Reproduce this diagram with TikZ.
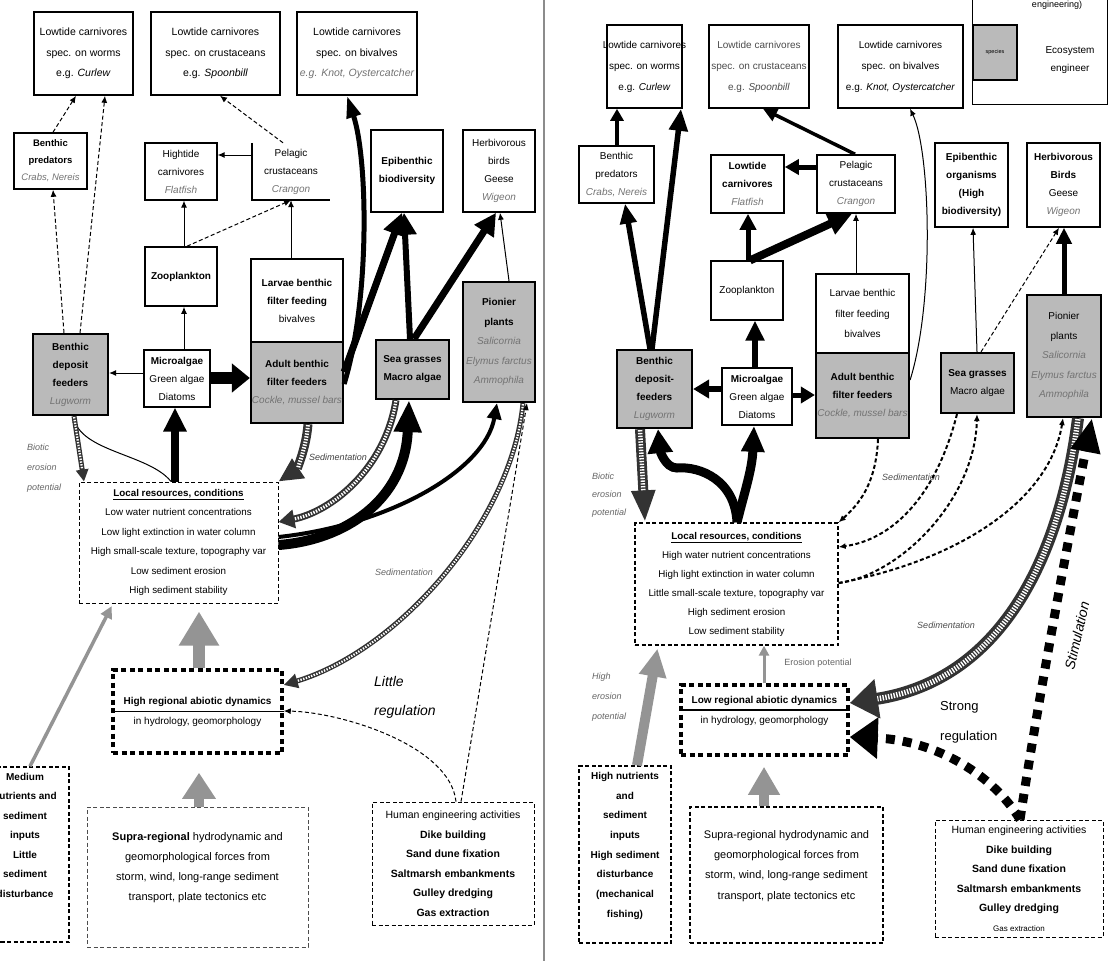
\documentclass[tikz,border=0pt]{standalone}
\usepackage{fontspec}
\setmainfont{Liberation Sans}
\usetikzlibrary{arrows.meta}
\newcommand\spname[1]{{\color{black!55}\itshape #1}}
\newcommand\ov[1]{\makebox[0pt][c]{#1}}
\newcommand\hatchdraw[4]{%
 \draw[line width=#1pt, black!80, -{Triangle[length=#2pt,width=#3pt]}] #4;
 \draw[line width=#1pt*0.45, white, dash pattern=on 1.4pt off 1.4pt, shorten >=#2pt, shorten <=1pt] #4;}
\begin{document}
\begin{tikzpicture}[x=1pt,y=-1pt,
 box/.style={draw,line width=1.6pt,fill=white,align=center,inner sep=1pt},
 eng/.style={box,fill=black!27,line width=2.2pt},
 dbox/.style={draw,line width=1pt,dash pattern=on 4pt off 2.5pt,align=center,inner sep=1pt},
 dotbox/.style={draw,line width=3.5pt,dash pattern=on 5pt off 3.5pt,align=center,inner sep=1pt},
 lbl/.style={align=center,inner sep=0pt},
 conn/.style={line width=1pt,-{Latex[length=7pt,width=6pt]}},
 connd/.style={conn,dash pattern=on 4pt off 2.5pt},
 fat/.style args={#1/#2/#3}{line width=#1pt,-{Triangle[length=#2pt,width=#3pt]}},
 gfat/.style args={#1/#2/#3}{fat=#1/#2/#3, black!42},
 bdash/.style args={#1/#2/#3}{fat=#1/#2/#3, dash pattern=on 9pt off 8pt},
 fT/.style={font=\fontsize{10.5}{20.5}\selectfont},
 fM/.style={font=\fontsize{10}{18}\selectfont},
 fP/.style={font=\fontsize{10}{19.5}\selectfont},
 fL/.style={font=\fontsize{11}{20}\selectfont},
]
\useasboundingbox (0,0) rectangle (1110,961);
\clip (0,0) rectangle (1110,961);
\fill[white] (0,0) rectangle (1110,961);

% divider
\draw[black!45, line width=2pt] (544,0) -- (544,961);

%================ LEFT PANEL =================
\node[box,fT,minimum width=99,minimum height=83] (lw) at (83.5,53.5) {Lowtide carnivores\\spec. on worms\\e.g. \textit{Curlew}};
\node[box,fT,minimum width=129,minimum height=83] (lc) at (215.5,53.5) {Lowtide carnivores\\spec. on crustaceans\\e.g. \textit{Spoonbill}};
\node[box,fT,minimum width=120,minimum height=83] (lb) at (357,53.5) {Lowtide carnivores\\spec. on bivalves\\\spname{e.g. Knot, Oystercatcher}};
\node[box,font=\fontsize{9.5}{17}\selectfont,minimum width=73,minimum height=56] (bp) at (50.5,161) {\textbf{Benthic}\\\textbf{predators}\\\spname{Crabs, Nereis}};
\node[box,fM,line width=1.2pt,minimum width=72,minimum height=57] (hc) at (181,171.5) {Hightide\\carnivores\\\spname{Flatfish}};
\node[lbl,fM,minimum width=78,minimum height=57] (pc) at (291,171.5) {Pelagic\\crustaceans\\\spname{Crangon}};
\draw[line width=1.6pt] (pc.north west) -- (pc.south west) -- (pc.south east);
\node[box,fM,minimum width=72,minimum height=82] (ep) at (407,171) {\textbf{Epibenthic}\\\textbf{biodiversity}};
\node[box,fM,minimum width=72,minimum height=82] (hb) at (499,171) {Herbivorous\\birds\\Geese\\\spname{Wigeon}};
\node[box,fM,minimum width=72,minimum height=59] (zp) at (181,276.5) {\textbf{Zooplankton}};
\node[box,fM,minimum width=92,minimum height=83] (lv) at (297,300.5) {\textbf{Larvae benthic}\\\textbf{filter feeding}\\bivalves};
\node[eng,fM,minimum width=92,minimum height=81] (ad) at (297,382.5) {\textbf{Adult benthic}\\\textbf{filter feeders}\\\spname{Cockle, mussel bars}};
\node[eng,fM,minimum width=75,minimum height=81] (df) at (70.5,374.5) {\textbf{Benthic}\\\textbf{deposit}\\\textbf{feeders}\\\spname{Lugworm}};
\node[box,fM,line width=1.2pt,minimum width=66,minimum height=57] (ma) at (177,378.5) {\textbf{Microalgae}\\Green algae\\Diatoms};
\node[eng,fM,minimum width=73,minimum height=59] (sg) at (412.5,369.5) {\textbf{Sea grasses}\\\textbf{Macro algae}};
\node[eng,fP,minimum width=72,minimum height=120] (pp) at (499,342) {\textbf{Pionier}\\\textbf{plants}\\\spname{Salicornia}\\\spname{Elymus farctus}\\\spname{Ammophila}};
\node[dbox,font=\fontsize{9.8}{19.5}\selectfont,minimum width=199,minimum height=121] (lr) at (178.5,542.5) {\underline{\textbf{Local resources, conditions}}\\Low water nutrient concentrations\\Low light extinction in water column\\\ov{High small-scale texture, topography var}\\Low sediment erosion\\High sediment stability};
\node[dotbox,font=\fontsize{10}{20}\selectfont,minimum width=169,minimum height=83] (hr) at (197.5,711.5) {\textbf{High regional abiotic dynamics}\\in hydrology, geomorphology};
\draw[line width=1.5pt] (hr.west) -- (hr.east);
\node[dbox,line width=1.5pt,font=\fontsize{10}{19.5}\selectfont\bfseries,minimum width=88,minimum height=175] (mn) at (25,854.5) {Medium\\nutrients and\\sediment\\inputs\\Little\\sediment\\disturbance\\\mbox{}\\\mbox{}};
\node[dbox,line width=0.8pt,draw=black!70,fL,minimum width=221,minimum height=140] (sr) at (197.5,877) {\textbf{Supra-regional} hydrodynamic and\\geomorphological forces from\\storm, wind, long-range sediment\\transport, plate tectonics etc\\\mbox{}};
\node[dbox,line width=0.8pt,font=\fontsize{10.5}{19.5}\selectfont,minimum width=162,minimum height=123] (he) at (453,863.5) {Human engineering activities\\\textbf{Dike building}\\\textbf{Sand dune fixation}\\\textbf{Saltmarsh embankments}\\\textbf{Gulley dredging}\\\textbf{Gas extraction}};

% left labels
\node[lbl,anchor=west,align=left,font=\fontsize{9}{20}\selectfont\itshape,text=black!60] (bep) at (27,468) {Biotic\\erosion\\potential};
\node[lbl,font=\fontsize{9}{10}\selectfont\itshape,text=black!75] (sed1) at (338,457) {Sedimentation};
\node[lbl,font=\fontsize{9}{10}\selectfont\itshape,text=black!60] (sed2) at (404,572) {Sedimentation};
\node[lbl,anchor=west,align=left,font=\fontsize{14}{29}\selectfont\itshape] (lreg) at (374,697) {Little\\regulation};

% left connectors
\draw[connd] (53,0 |- bp.north) -- (76,0 |- lw.south);
\draw[connd] (64,0 |- df.north) -- (53,0 |- bp.south);
\draw[connd] (80,0 |- df.north) -- (105,0 |- lw.south);
\draw[connd] (283,0 |- pc.north) -- (220,0 |- lc.south);
\draw[conn] (pc.west |- 0,155) -- (hc.east |- 0,155);
\draw[conn] (184,0 |- zp.north) -- (184,0 |- hc.south);
\draw[connd] (187,0 |- zp.north) -- (291,0 |- pc.south);
\draw[conn] (291,0 |- lv.north) -- (291,0 |- pc.south);
\draw[conn] (184,0 |- ma.north) -- (184,0 |- zp.south);
\draw[conn] (ma.west |- 0,373) -- (df.east |- 0,373);
\draw[fat=12/18/28] (ma.east |- 0,378) -- (ad.west |- 0,378);
\draw[fat=5/22/14] (ad.east |- 0,384) .. controls (370,300) and (368,160) .. (347,0 |- lb.south);
\draw[fat=7/22/22] (ad.east |- 0,372) -- (402,0 |- ep.south);
\draw[fat=6/22/22] (410,0 |- sg.north) -- (404,0 |- ep.south);
\draw[fat=7/22/22] (414,0 |- sg.north) -- (496,0 |- hb.south);
\draw[conn] (509,0 |- pp.north) -- (500,0 |- hb.south);
\draw[fat=8/24/22] (175,0 |- lr.north) -- (175,0 |- ma.south);
\draw[line width=1pt,-{Latex[length=6pt,width=5pt]}] (171,0 |- lr.north) .. controls (150,455) and (85,452) .. (73,0 |- df.south);
\hatchdraw{5}{12}{12}{(74,0 |- df.south) -- (84,0 |- lr.north)}
\hatchdraw{9}{24}{22}{(308,0 |- ad.south) .. controls (306,450) and (296,470) .. (lr.north east)}
\hatchdraw{7}{16}{18}{(396,0 |- sg.south) .. controls (385,470) and (330,512) .. (lr.east |- 0,522)}
\draw[fat=10/32/26] (lr.east |- 0,545) .. controls (345,540) and (405,500) .. (409,0 |- sg.south);
\draw[fat=4/16/14] (lr.east |- 0,537) .. controls (390,525) and (485,470) .. (497,0 |- pp.south);
\hatchdraw{5}{14}{14}{(523,0 |- pp.south) .. controls (512,520) and (400,650) .. (hr.east |- 0,685)}
\draw[connd] (456,0 |- he.north) .. controls (450,745) and (340,712) .. (hr.east |- 0,711);
\draw[connd] (461,0 |- he.north) -- (527,0 |- pp.south);
\draw[gfat=10/26/32, shorten >=18pt] (199,0 |- sr.north) -- (199,0 |- hr.south);
\draw[gfat=12/34/38, shorten >=8pt] (199,0 |- hr.north) -- (199,0 |- lr.south);
\draw[gfat=3.5/12/12, shorten >=3pt] (30,0 |- mn.north) -- (113,0 |- lr.south);

%================ RIGHT PANEL =================
% legend
\node[draw,line width=1pt,minimum width=135,minimum height=112] (lg) at (1039.5,48) {};
\node[lbl,font=\fontsize{9}{10}\selectfont] (lgt) at (1057,5) {engineering)};
\node[eng,line width=1.6pt,minimum width=44,minimum height=55,font=\fontsize{5.5}{6}\selectfont] (lgs) at (995,52.5) {species};
\node[lbl,font=\fontsize{10}{18}\selectfont] (lge) at (1070,60) {Ecosystem\\engineer};

\node[box,font=\fontsize{10}{21}\selectfont,minimum width=75,minimum height=83] (rlw) at (644.5,66.5) {\ov{Lowtide carnivores}\\\ov{spec. on worms}\\e.g. \textit{Curlew}};
\node[box,font=\fontsize{10}{21}\selectfont,minimum width=100,minimum height=83] (rlc) at (759,66.5) {\color{black!70}Lowtide carnivores\\\color{black!70}\ov{spec. on crustaceans}\\\color{black!70}e.g. \textit{Spoonbill}};
\node[box,font=\fontsize{10}{21}\selectfont,minimum width=125,minimum height=83] (rlb) at (900.5,66.5) {Lowtide carnivores\\spec. on bivalves\\e.g. \textit{Knot, Oystercatcher}};
\node[box,fM,line width=1.2pt,minimum width=75,minimum height=57] (rbp) at (616.5,174.5) {Benthic\\predators\\\spname{Crabs, Nereis}};
\node[box,fM,minimum width=73,minimum height=58] (rhc) at (747.5,184) {\textbf{Lowtide}\\\textbf{carnivores}\\\spname{Flatfish}};
\node[box,fM,minimum width=78,minimum height=58] (rpc) at (856,184) {Pelagic\\crustaceans\\\spname{Crangon}};
\node[box,fM,minimum width=73,minimum height=84] (rep) at (971.5,185) {\textbf{Epibenthic}\\\textbf{organisms}\\\textbf{(High}\\\textbf{biodiversity)}};
\node[box,fM,minimum width=73,minimum height=84] (rhb) at (1063.5,185) {\textbf{Herbivorous}\\\textbf{Birds}\\Geese\\\spname{Wigeon}};
\node[box,fM,line width=1.2pt,minimum width=72,minimum height=59] (rzp) at (747,290.5) {Zooplankton};
\node[box,font=\fontsize{10}{20.5}\selectfont,minimum width=93,minimum height=79] (rlv) at (862.5,313.5) {Larvae benthic\\filter feeding\\bivalves};
\node[eng,fM,minimum width=93,minimum height=85] (rad) at (862.5,395.5) {\textbf{Adult benthic}\\\textbf{filter feeders}\\\spname{Cockle, mussel bars}};
\node[eng,fM,minimum width=75,minimum height=78] (rdf) at (654.5,389) {\textbf{Benthic}\\\textbf{deposit-}\\\textbf{feeders}\\\spname{Lugworm}};
\node[box,fM,minimum width=70,minimum height=57] (rma) at (757,396.5) {\textbf{Microalgae}\\Green algae\\Diatoms};
\node[eng,fM,minimum width=73,minimum height=60] (rsg) at (977.5,383) {\textbf{Sea grasses}\\Macro algae};
\node[eng,fP,minimum width=74,minimum height=122] (rpp) at (1064,356) {Pionier\\plants\\\spname{Salicornia}\\\spname{Elymus farctus}\\\spname{Ammophila}};
\node[dbox,line width=1.3pt,font=\fontsize{9.8}{19}\selectfont,minimum width=203,minimum height=122] (rlr) at (736.5,584) {\underline{\textbf{Local resources, conditions}}\\High water nutrient concentrations\\High light extinction in water column\\\ov{Little small-scale texture, topography var}\\High sediment erosion\\Low sediment stability};
\node[dotbox,font=\fontsize{10}{20}\selectfont,minimum width=167,minimum height=70] (rhr) at (764.5,720) {\textbf{Low regional abiotic dynamics}\\in hydrology, geomorphology\\\mbox{}};
\draw[line width=1.5pt] ([yshift=10pt]rhr.west) -- ([yshift=10pt]rhr.east);
\node[dbox,line width=1.4pt,font=\fontsize{10}{19.7}\selectfont\bfseries,minimum width=92,minimum height=177] (rmn) at (625,854.5) {High nutrients\\and\\sediment\\inputs\\High sediment\\disturbance\\(mechanical\\fishing)\\\mbox{}};
\node[dbox,line width=1.6pt,fL,minimum width=193,minimum height=136] (rsr) at (786.5,875) {Supra-regional hydrodynamic and\\geomorphological forces from\\storm, wind, long-range sediment\\transport, plate tectonics etc\\\mbox{}};
\node[dbox,line width=1pt,font=\fontsize{10.5}{19.5}\selectfont,minimum width=168,minimum height=117] (rhe) at (1019,878.5) {Human engineering activities\\\textbf{Dike building}\\\textbf{Sand dune fixation}\\\textbf{Saltmarsh embankments}\\\textbf{Gulley dredging}\\{\footnotesize Gas extraction}};

% right labels
\node[lbl,anchor=west,align=left,font=\fontsize{9}{18}\selectfont\itshape,text=black!60] (rbep) at (592,495) {Biotic\\erosion\\potential};
\node[lbl,font=\fontsize{9}{10}\selectfont\itshape,text=black!70] (rsed1) at (911,477) {Sedimentation};
\node[lbl,font=\fontsize{9}{10}\selectfont\itshape,text=black!70] (rsed2) at (946,625) {Sedimentation};
\node[lbl,font=\fontsize{9}{10}\selectfont,text=black!60] (rerp) at (818,663) {Erosion potential};
\node[lbl,anchor=west,align=left,font=\fontsize{9}{20}\selectfont\itshape,text=black!60] (rhep) at (592,697) {High\\erosion\\potential};
\node[lbl,anchor=west,align=left,font=\fontsize{13}{30}\selectfont] (sreg) at (940,722) {Strong\\regulation};
\node[lbl,rotate=77,font=\fontsize{14}{16}\selectfont\itshape] (stim) at (1077,636) {Stimulation};

% right connectors
\draw[fat=3.5/12/13] (617,0 |- rbp.north) -- (617,0 |- rlw.south);
\draw[fat=5.5/22/18] (652,0 |- rdf.north) -- (681,0 |- rlw.south);
\draw[fat=5.5/20/16] (650,0 |- rdf.north) -- (625,0 |- rbp.south);
\draw[fat=3.5/14/13] (855,0 |- rpc.north) -- (763,0 |- rlc.south);
\draw[fat=5/14/15] (rpc.west |- 0,167) -- (rhc.east |- 0,167);
\draw[fat=5/16/16] (748,0 |- rzp.north) -- (748,0 |- rhc.south);
\draw[fat=8/24/22] (750,0 |- rzp.north) -- (852,0 |- rpc.south);
\draw[conn] (856,0 |- rlv.north) -- (856,0 |- rpc.south);
\draw[conn] (rad.east |- 0,380) .. controls (935,300) and (930,150) .. (910,0 |- rlb.south);
\draw[fat=6/20/18] (755,0 |- rma.north) -- (755,0 |- rzp.south);
\draw[fat=6/16/18] (rma.west |- 0,389) -- (rdf.east |- 0,389);
\draw[fat=5/14/16] (rma.east |- 0,395) -- (rad.west |- 0,395);
\draw[conn] (977,0 |- rsg.north) -- (973,0 |- rep.south);
\draw[connd] (981,0 |- rsg.north) -- (1059,0 |- rhb.south);
\draw[fat=5/16/15] (1064,0 |- rpp.north) -- (1064,0 |- rhb.south);
\draw[fat=9/24/24] (737,0 |- rlr.north) .. controls (735,480) and (700,466) .. (677,468) .. controls (665,468) and (660,450) .. (658,0 |- rdf.south);
\draw[fat=9/26/22] (737,0 |- rlr.north) .. controls (745,490) and (752,470) .. (754,0 |- rma.south);
\hatchdraw{10}{32}{22}{(640,0 |- rdf.south) -- (645,0 |- rlr.north)}
\draw[connd,line width=2pt] (878,0 |- rad.south) .. controls (876,485) and (858,505) .. (rlr.north east);
\draw[connd,line width=2pt] (957,0 |- rsg.south) .. controls (935,500) and (890,540) .. (rlr.east |- 0,547);
\draw[connd,line width=2pt] (rlr.east |- 0,583) .. controls (900,575) and (975,500) .. (977,0 |- rsg.south);
\draw[connd,line width=2pt] (rlr.east |- 0,583) .. controls (960,560) and (1050,500) .. (1063,0 |- rpp.south);
\hatchdraw{12}{28}{38}{(1078,0 |- rpp.south) .. controls (1060,560) and (1000,680) .. (rhr.east |- 0,703)}
\draw[bdash=9/28/40] (1020,0 |- rhe.north) .. controls (990,770) and (930,740) .. (rhr.east |- 0,737);
\draw[bdash=9/34/28] (1020,0 |- rhe.north) .. controls (1038,700) and (1072,520) .. (1092,0 |- rpp.south);
\draw[gfat=10/28/30, shorten >=10pt] (764,0 |- rsr.north) -- (764,0 |- rhr.south);
\draw[gfat=3/10/10] (764,0 |- rhr.north) -- (764,0 |- rlr.south);
\draw[gfat=10/28/26, shorten >=3pt] (637,0 |- rmn.north) -- (658,0 |- rlr.south);
\end{tikzpicture}
\end{document}
